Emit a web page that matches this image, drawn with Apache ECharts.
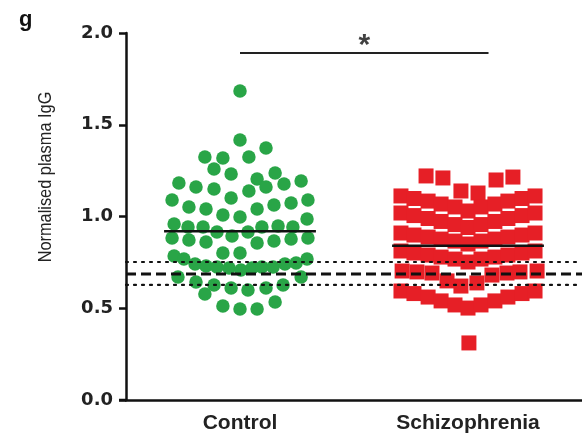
<!DOCTYPE html>
<html>
<head>
<meta charset="utf-8">
<script src="https://cdn.jsdelivr.net/npm/echarts@6/dist/echarts.min.js"></script>
<style>
html,body{margin:0;padding:0;background:#ffffff;}
#chart{width:582px;height:438px;}
</style>
</head>
<body>
<div id="chart"></div>
<script>
// ---------- data ----------
const categories = ['Control', 'Schizophrenia'];
const yTicks = [0, 0.5, 1.0, 1.5, 2.0];

// Control (green circles): value and horizontal offset within its column (fraction of category width)
const controlValues = [
  1.684, 1.417, 1.373, 1.324, 1.319, 1.324, 1.259, 1.232, 1.237, 1.204,
  1.183, 1.161, 1.150, 1.139, 1.161, 1.177, 1.193, 1.090, 1.101, 1.074,
  1.090, 1.052, 1.041, 1.008, 0.997, 1.041, 1.063, 0.959, 0.943, 0.943,
  0.916, 0.894, 0.916, 0.943, 0.948, 0.943, 0.986, 0.883, 0.872, 0.861,
  0.856, 0.866, 0.877, 0.883, 0.801, 0.801, 0.785, 0.768, 0.741, 0.730,
  0.725, 0.719, 0.708, 0.719, 0.725, 0.725, 0.741, 0.747, 0.768, 0.670,
  0.643, 0.627, 0.610, 0.599, 0.610, 0.627, 0.670, 0.578, 0.512, 0.496,
  0.496, 0.534
];
const controlJitter = [
  0.000, 0.000, 0.114, -0.154, -0.075, 0.039, -0.114, -0.039, 0.154, 0.075,
  -0.268, -0.193, -0.114, 0.039, 0.114, 0.193, 0.268, -0.298, -0.039, 0.224,
  0.298, -0.224, -0.149, -0.075, 0.000, 0.075, 0.149, -0.289, -0.228, -0.162,
  -0.101, -0.035, 0.035, 0.096, 0.167, 0.232, 0.294, -0.298, -0.224, -0.149,
  0.075, 0.149, 0.224, 0.298, -0.075, 0.000, -0.289, -0.246, -0.197, -0.149,
  -0.101, -0.048, 0.004, 0.053, 0.096, 0.145, 0.197, 0.246, 0.294, -0.272,
  -0.193, -0.114, -0.039, 0.035, 0.114, 0.189, 0.268, -0.154, -0.075, 0.000,
  0.075, 0.154
];

// Schizophrenia (red squares)
const schizoValues = [
  1.221, 1.210, 1.139, 1.128, 1.199, 1.215,
  1.112, 1.098, 1.084, 1.068, 1.052, 1.030, 1.052, 1.068, 1.084, 1.098, 1.112,
  1.019, 1.005, 0.989, 0.973, 0.956, 0.940, 0.956, 0.973, 0.989, 1.005, 1.019,
  0.910, 0.899, 0.888, 0.877, 0.866, 0.850, 0.866, 0.877, 0.888, 0.899, 0.910,
  0.812, 0.801, 0.790, 0.779, 0.768, 0.752, 0.768, 0.779, 0.790, 0.801, 0.812,
  0.703, 0.698, 0.692, 0.649, 0.621, 0.638, 0.681, 0.692, 0.698, 0.703,
  0.594, 0.580, 0.561, 0.540, 0.518, 0.501, 0.518, 0.540, 0.561, 0.580, 0.594,
  0.311
];
const schizoJitter = [
  -0.184, -0.110, -0.031, 0.044, 0.123, 0.197,
  -0.294, -0.237, -0.175, -0.118, -0.057, 0.000, 0.057, 0.118, 0.175, 0.237, 0.294,
  -0.294, -0.237, -0.175, -0.118, -0.057, 0.000, 0.057, 0.118, 0.175, 0.237, 0.294,
  -0.294, -0.237, -0.175, -0.118, -0.057, 0.000, 0.057, 0.118, 0.175, 0.237, 0.294,
  -0.294, -0.237, -0.175, -0.118, -0.057, 0.000, 0.057, 0.118, 0.175, 0.237, 0.294,
  -0.289, -0.224, -0.158, -0.092, -0.031, 0.039, 0.105, 0.171, 0.228, 0.303,
  -0.294, -0.237, -0.175, -0.118, -0.057, 0.000, 0.057, 0.118, 0.175, 0.237, 0.294,
  0.004
];

const groupMeans = [0.920, 0.840];
const meanHalfWidth = 0.333;
const referenceMean = 0.687;     // dashed line
const referenceBand = [0.627, 0.752]; // dotted lines
const significance = { from: 0, to: 1.09, level: 1.891, label: '*' };

// ---------- chart ----------
const font = "'Liberation Sans', Arial, Helvetica, sans-serif";
const tickFont = "'DejaVu Sans', 'Liberation Sans', Arial, sans-serif";
const chart = echarts.init(document.getElementById('chart'), null, { renderer: 'canvas' });

const controlData = controlValues.map((v, i) => [0 + controlJitter[i], v]);
const schizoData = schizoValues.map((v, i) => [1 + schizoJitter[i], v]);

function hLine(y, style, z) {
  return {
    type: 'line', xAxisIndex: 1, yAxisIndex: 0, silent: true, symbol: 'none', z: z,
    data: [[-0.5, y], [1.5, y]],
    lineStyle: style
  };
}

const option = {
  backgroundColor: '#ffffff',
  animation: false,
  grid: { left: 126, right: 0, top: 33, bottom: 38 },
  xAxis: [
    {
      type: 'category', data: categories, boundaryGap: true,
      axisLine: { onZero: false, lineStyle: { color: '#111', width: 2.5 } },
      axisTick: { alignWithLabel: true, length: 7, lineStyle: { color: '#111', width: 2.5 } },
      axisLabel: { color: '#222', fontFamily: font, fontWeight: 'bold', fontSize: 21, margin: 13 },
      splitLine: { show: false }
    },
    { type: 'value', min: -0.5, max: 1.5, show: false }
  ],
  yAxis: {
    type: 'value', min: yTicks[0], max: yTicks[yTicks.length - 1], interval: 0.5,
    axisLine: { show: true, onZero: false, lineStyle: { color: '#111', width: 2.5 } },
    axisTick: { show: true, length: 7, lineStyle: { color: '#111', width: 2.5 } },
    axisLabel: { color: '#222', fontFamily: tickFont, fontWeight: 'bold', fontSize: 18, margin: 13,
      formatter: v => v.toFixed(1) },
    splitLine: { show: false }
  },
  graphic: [
    { type: 'text', x: 46, y: 177, rotation: Math.PI / 2, scaleX: 0.86,
      style: { text: 'Normalised plasma IgG', fill: '#222', font: '19px ' + font, align: 'center', verticalAlign: 'middle' } },
    { type: 'text', x: 19, y: 9,
      style: { text: 'g', fill: '#111', font: 'bold 22px ' + font } },
    { type: 'line', shape: { x1: 119, y1: 400, x2: 127, y2: 400 },
      style: { stroke: '#111', lineWidth: 2.5 } }
  ],
  series: [
    {
      type: 'scatter', xAxisIndex: 1, data: controlData, symbol: 'circle', symbolSize: 13.5,
      itemStyle: { color: '#29a547', opacity: 1 }, z: 2
    },
    {
      type: 'scatter', xAxisIndex: 1, data: schizoData, symbol: 'rect', symbolSize: 15,
      itemStyle: { color: '#e61f26', opacity: 1 }, z: 2
    },
    hLine(referenceBand[1], { color: '#111', width: 2.2, type: [2, 6], cap: 'round' }, 6),
    hLine(referenceBand[0], { color: '#111', width: 2.2, type: [2, 6], cap: 'round' }, 6),
    hLine(referenceMean, { color: '#111', width: 3, type: [10, 5] }, 6),
    {
      type: 'line', xAxisIndex: 1, symbol: 'none', silent: true, z: 7,
      data: [[0 - meanHalfWidth, groupMeans[0]], [0 + meanHalfWidth, groupMeans[0]]],
      lineStyle: { color: '#111', width: 2.5 }
    },
    {
      type: 'line', xAxisIndex: 1, symbol: 'none', silent: true, z: 7,
      data: [[1 - meanHalfWidth, groupMeans[1]], [1 + meanHalfWidth, groupMeans[1]]],
      lineStyle: { color: '#111', width: 2.5 }
    },
    {
      type: 'line', xAxisIndex: 1, symbol: 'none', silent: true, z: 7,
      data: [[significance.from, significance.level], [significance.to, significance.level]],
      lineStyle: { color: '#222', width: 2 }
    },
    {
      type: 'scatter', xAxisIndex: 1, silent: true, z: 7, symbolSize: 0,
      data: [[(significance.from + significance.to) / 2, significance.level]],
      label: { show: true, formatter: significance.label, position: 'top', distance: -8,
        color: '#111', fontFamily: font, fontWeight: 'bold', fontSize: 30 }
    }
  ]
};
chart.setOption(option);
</script>
</body>
</html>
